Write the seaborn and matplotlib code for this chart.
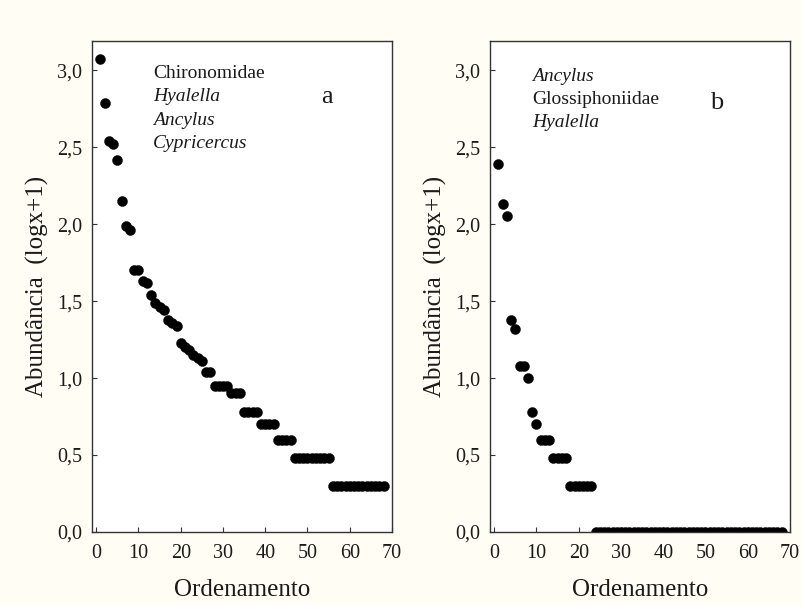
import matplotlib
matplotlib.use("Agg")
import matplotlib.pyplot as plt
import seaborn as sns
import numpy as np
import pandas as pd

# ---------------- data ----------------
rank_a = list(range(1, 69))
abund_a = [3.07, 2.79, 2.54, 2.52, 2.42, 2.15, 1.99, 1.96,
           1.70, 1.70, 1.63, 1.62,
           1.54, 1.49, 1.46, 1.44, 1.38, 1.36, 1.34,
           1.23, 1.20, 1.18, 1.15, 1.13, 1.11,
           1.04, 1.04,
           0.95, 0.95, 0.95, 0.95,
           0.90, 0.90, 0.90,
           0.78, 0.78, 0.78, 0.78,
           0.70, 0.70, 0.70, 0.70,
           0.60, 0.60, 0.60, 0.60,
           0.48, 0.48, 0.48, 0.48, 0.48, 0.48, 0.48, 0.48, 0.48,
           0.30, 0.30, 0.30, 0.30, 0.30, 0.30, 0.30, 0.30, 0.30, 0.30, 0.30, 0.30, 0.30]

rank_b = list(range(1, 69))
abund_b = [2.39, 2.13, 2.05, 1.38, 1.32, 1.08, 1.08, 1.00, 0.78, 0.70,
           0.60, 0.60, 0.60,
           0.48, 0.48, 0.48, 0.48,
           0.30, 0.30, 0.30, 0.30, 0.30, 0.30] + [0.0] * 45

taxa_a = ["Chironomidae", "Hyalella", "Ancylus", "Cypricercus"]
italic_a = [False, True, True, True]
taxa_b = ["Ancylus", "Glossiphoniidae", "Hyalella"]
italic_b = [True, False, True]
panel_labels = ["a", "b"]

xticks = [0, 10, 20, 30, 40, 50, 60, 70]
yticks = [0.0, 0.5, 1.0, 1.5, 2.0, 2.5, 3.0]
ytick_labels = ["0,0", "0,5", "1,0", "1,5", "2,0", "2,5", "3,0"]
xlabel = "Ordenamento"
ylabel = "Abundância  (logx+1)"

# ---------------- style ----------------
sns.set_style("ticks")
plt.rcParams["font.family"] = ["Liberation Serif", "DejaVu Serif"]

fig = plt.figure(figsize=(8.02, 6.05), dpi=100, facecolor="#fffdf4")
ax_a = fig.add_axes([92 / 802, 73 / 605, 300 / 802, 491 / 605])
ax_b = fig.add_axes([490 / 802, 73 / 605, 300 / 802, 491 / 605])

df_a = pd.DataFrame({"rank": rank_a, "abund": abund_a})
df_b = pd.DataFrame({"rank": rank_b, "abund": abund_b})

txt_col = "#1a1a1a"

for ax, df, taxa, ital, plab, tx, ty0, dy, lx, ly in [
    (ax_a, df_a, taxa_a, italic_a, panel_labels[0], 0.203, 0.933, 0.047, 0.783, 0.886),
    (ax_b, df_b, taxa_b, italic_b, panel_labels[1], 0.14, 0.927, 0.046, 0.757, 0.873),
]:
    ax.set_facecolor("white")
    sns.scatterplot(data=df, x="rank", y="abund", ax=ax, color="black",
                    s=52, edgecolor="black", linewidth=0.3, legend=False)
    ax.set_xlim(-1, 70)
    ax.set_ylim(0, 3.19)
    ax.set_xticks(xticks)
    ax.set_xticklabels([str(t) for t in xticks])
    ax.set_yticks(yticks)
    ax.set_yticklabels(ytick_labels)
    ax.tick_params(direction="in", length=3.5, width=0.8, colors="#333333",
                   labelsize=14.5, labelcolor=txt_col)
    ax.tick_params(axis="x", pad=9)
    ax.tick_params(axis="y", pad=7)
    for sp in ax.spines.values():
        sp.set_visible(True)
        sp.set_color("#333333")
        sp.set_linewidth(1.0)
    ax.set_xlabel(xlabel, fontsize=18, color=txt_col, labelpad=11)
    ax.set_ylabel(ylabel, fontsize=18, color=txt_col)
    ax.yaxis.set_label_coords(-0.143, 0.5)
    for k, (name, it) in enumerate(zip(taxa, ital)):
        ax.text(tx, ty0 - k * dy, name, transform=ax.transAxes, fontsize=14,
                style="italic" if it else "normal", color=txt_col,
                ha="left", va="center")
    ax.text(lx, ly, plab, transform=ax.transAxes, fontsize=19, color=txt_col,
            ha="center", va="center")

fig.savefig("out.png", dpi=100, facecolor=fig.get_facecolor())
